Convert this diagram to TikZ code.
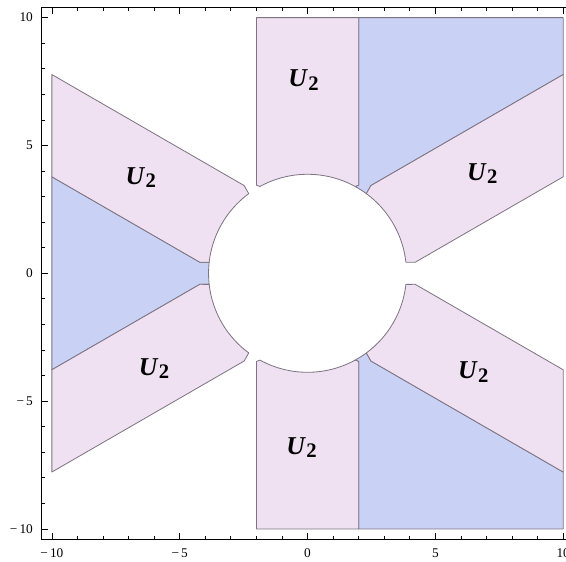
\documentclass[tikz,border=0pt]{standalone}
\usepackage{fontspec}
\setmainfont{Liberation Serif}
\usepackage{tikz}
\definecolor{regpink}{RGB}{239,225,241}
\definecolor{regblue}{RGB}{201,209,245}
\definecolor{regedge}{RGB}{125,115,130}

\begin{document}
\begin{tikzpicture}[scale=0.5,
        pinkset/.style={fill=regpink, draw=regedge, line width=0.45pt, line join=round},
        blueset/.style={fill=regblue, draw=regedge, line width=0.45pt, line join=round},
        setlabel/.style={inner sep=0pt, font=\fontsize{14.3}{16}\selectfont\bfseries\itshape},
        ticklabel/.style={inner sep=0pt, font=\fontsize{7.4}{9}\selectfont},
        plotframe/.style={draw=black, line width=0.5pt},
        tickmark/.style={draw=black, line width=0.4pt}
    ]
        \useasboundingbox (-12.03,-11.29) rectangle (10.11,10.69);
        \clip (-12.03,-11.29) rectangle (10.11,10.69);

        % blue regions
        \path[blueset] (2,10) -- (10,10) -- (10,7.774) -- (2.480,3.432) -- (53.57:3.873)
            arc[start angle=53.57, end angle=61.3, radius=3.873] -- (2,3.447) -- cycle;
        \path[blueset] (2,-10) -- (10,-10) -- (10,-7.774) -- (2.480,-3.432) -- (-53.57:3.873)
            arc[start angle=-53.57, end angle=-61.3, radius=3.873] -- (2,-3.447) -- cycle;
        \path[blueset] (-10,3.774) -- (-4.212,0.432) -- (173.57:3.873)
            arc[start angle=173.57, end angle=186.43, radius=3.873] -- (-4.212,-0.432) -- (-10,-3.774) -- cycle;

        % pink regions U_2
        \path[pinkset] (-2,10) -- (2,10) -- (2,3.447) -- (61.3:3.873)
            arc[start angle=61.3, end angle=118.7, radius=3.873] -- (-2,3.447) -- cycle;
        \path[pinkset] (-2,-10) -- (2,-10) -- (2,-3.447) -- (-61.3:3.873)
            arc[start angle=-61.3, end angle=-118.7, radius=3.873] -- (-2,-3.447) -- cycle;
        \path[pinkset] (2.480,3.432) -- (10,7.774) -- (10,3.774) -- (4.212,0.432) -- (6.43:3.873)
            arc[start angle=6.43, end angle=53.57, radius=3.873] -- cycle;
        \path[pinkset] (2.480,-3.432) -- (10,-7.774) -- (10,-3.774) -- (4.212,-0.432) -- (-6.43:3.873)
            arc[start angle=-6.43, end angle=-53.57, radius=3.873] -- cycle;
        \path[pinkset] (-2.480,3.432) -- (-10,7.774) -- (-10,3.774) -- (-4.212,0.432) -- (173.57:3.873)
            arc[start angle=173.57, end angle=126.43, radius=3.873] -- cycle;
        \path[pinkset] (-2.480,-3.432) -- (-10,-7.774) -- (-10,-3.774) -- (-4.212,-0.432) -- (186.43:3.873)
            arc[start angle=186.43, end angle=233.57, radius=3.873] -- cycle;

        % labels
        \node[setlabel] (u2top) at (-0.16,7.56) {U\kern0.8pt\raisebox{-1.9pt}{\fontsize{11.5}{12}\selectfont\upshape 2}};
        \node[setlabel] (u2ur) at (6.84,3.91) {U\kern0.8pt\raisebox{-1.9pt}{\fontsize{11.5}{12}\selectfont\upshape 2}};
        \node[setlabel] (u2ul) at (-6.52,3.75) {U\kern0.8pt\raisebox{-1.9pt}{\fontsize{11.5}{12}\selectfont\upshape 2}};
        \node[setlabel] (u2ll) at (-6.0,-3.72) {U\kern0.8pt\raisebox{-1.9pt}{\fontsize{11.5}{12}\selectfont\upshape 2}};
        \node[setlabel] (u2lr) at (6.48,-3.87) {U\kern0.8pt\raisebox{-1.9pt}{\fontsize{11.5}{12}\selectfont\upshape 2}};
        \node[setlabel] (u2bot) at (-0.23,-6.82) {U\kern0.8pt\raisebox{-1.9pt}{\fontsize{11.5}{12}\selectfont\upshape 2}};

        % frame and ticks
        \draw[plotframe] (-10.4,-10.4) rectangle (10.4,10.4);
        \foreach \v in {-10,...,10} {
            \draw[tickmark] (\v,-10.4) -- ++(0,0.13);
            \draw[tickmark] (\v,10.4) -- ++(0,-0.13);
            \draw[tickmark] (-10.4,\v) -- ++(0.13,0);
        }
        \foreach \v in {-10,-5,0,5,10} {
            \draw[tickmark] (\v,-10.4) -- ++(0,0.25);
            \draw[tickmark] (\v,10.4) -- ++(0,-0.25);
            \draw[tickmark] (-10.4,\v) -- ++(0.25,0);
        }
        \foreach \v/\t [count=\i] in {-10/{−\,10}, -5/{−\,5}, 0/0, 5/5, 10/10} {
            \node[ticklabel, anchor=north] (xlab\i) at (\v,-10.77) {\t};
            \node[ticklabel, anchor=east] (ylab\i) at (-10.73,\v) {\t};
        }
\end{tikzpicture}
\end{document}
